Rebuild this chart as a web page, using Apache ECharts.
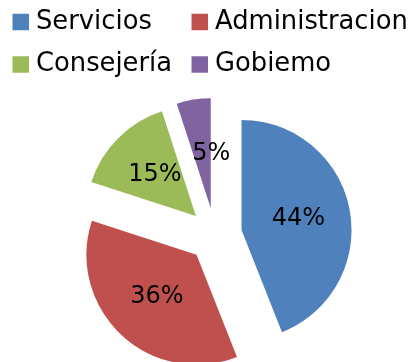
<!DOCTYPE html>
<html>
<head>
<meta charset="utf-8">
<script src="https://cdn.jsdelivr.net/npm/echarts@6/dist/echarts.min.js"></script>
<style>
  html, body { margin: 0; padding: 0; background: #fff; }
  #chart { width: 411px; height: 362px; }
</style>
</head>
<body>
<div id="chart"></div>
<script>
// Share of staff by area (percent)
const categories = ['Servicios', 'Administracion', 'Consejería', 'Gobiemo'];
const values = [44, 36, 15, 5];
const colors = ['#4F81BD', '#C0504D', '#9BBB59', '#8064A2'];

const FONT = 'DejaVu Sans';
const EXPLODE = 27;

// legend laid out as a 2x2 grid: one legend component per cell
const legendCells = [
  { left: 12.5, top: 7 },
  { left: 191.5, top: 7 },
  { left: 12.5, top: 49.5 },
  { left: 191.5, top: 49.5 }
];

const chart = echarts.init(document.getElementById('chart'), null, { renderer: 'canvas' });

// the thinnest slice: its label is wider than the slice, so the pie hides it;
// it is drawn as a separate text element placed from the slice layout
const THIN = 3;

chart.setOption({
  animation: false,
  color: colors,
  legend: categories.map((name, i) => ({
    data: [name],
    left: legendCells[i].left,
    top: legendCells[i].top,
    padding: 0,
    icon: 'rect',
    itemWidth: 16.5,
    itemHeight: 16.5,
    selectedMode: false,
    textStyle: {
      fontFamily: FONT,
      fontSize: 25.8,
      color: '#000',
      lineHeight: 30,
      padding: [0, 0, 0, 2]
    }
  })),
  series: [{
    type: 'pie',
    center: [215, 235],
    radius: 110,
    startAngle: 90,
    clockwise: true,
    selectedMode: 'multiple',
    selectedOffset: EXPLODE,
    emphasis: { disabled: true },
    label: {
      show: true,
      position: 'inner',
      formatter: '{c}%',
      fontFamily: FONT,
      fontSize: 24,
      color: '#000'
    },
    labelLine: { show: false },
    data: categories.map((name, i) => {
      const item = { name: name, value: values[i], selected: true };
      if (i === THIN) item.label = { show: false };
      return item;
    })
  }]
});

// place the thin slice's value label at half radius along its bisector
const layout = chart.getModel().getSeriesByIndex(0).getData().getItemLayout(THIN);
const mid = (layout.startAngle + layout.endAngle) / 2;
const dist = EXPLODE + (layout.r0 + layout.r) / 2;
chart.setOption({
  graphic: [{
    type: 'text',
    silent: true,
    x: layout.cx + Math.cos(mid) * dist + 9,
    y: layout.cy + Math.sin(mid) * dist,
    style: {
      text: values[THIN] + '%',
      font: '24px "' + FONT + '"',
      fill: '#000',
      align: 'center',
      verticalAlign: 'middle'
    },
    z: 100
  }]
});
</script>
</body>
</html>
